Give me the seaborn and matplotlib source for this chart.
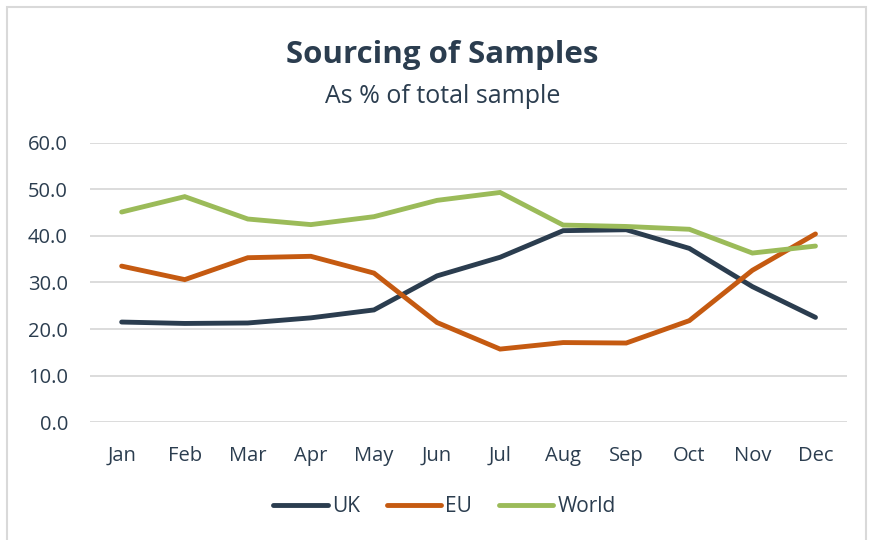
import matplotlib
matplotlib.use('Agg')
import matplotlib.pyplot as plt
import seaborn as sns
import pandas as pd
from matplotlib.patches import Rectangle

months = ['Jan', 'Feb', 'Mar', 'Apr', 'May', 'Jun', 'Jul', 'Aug', 'Sep', 'Oct', 'Nov', 'Dec']
uk = [21.5, 21.2, 21.3, 22.4, 24.1, 31.4, 35.4, 41.1, 41.3, 37.3, 29.1, 22.5]
eu = [33.5, 30.6, 35.3, 35.6, 32.0, 21.4, 15.7, 17.1, 17.0, 21.8, 32.6, 40.4]
world = [45.1, 48.4, 43.6, 42.4, 44.1, 47.6, 49.3, 42.3, 42.0, 41.4, 36.3, 37.8]

series = ['UK', 'EU', 'World']
colors = {'UK': '#2B3D4F', 'EU': '#C55A11', 'World': '#9BBB59'}
text_color = '#2B3D4F'

df = pd.DataFrame({
    'month': list(range(len(months))) * 3,
    'value': uk + eu + world,
    'series': ['UK'] * 12 + ['EU'] * 12 + ['World'] * 12,
})

sns.set_theme(style='white')
plt.rcParams['font.family'] = ['Open Sans', 'DejaVu Sans']

fig = plt.figure(figsize=(8.75, 5.4), dpi=100)
ax = fig.add_axes([0.103, 0.218, 0.865, 0.518])

sns.lineplot(data=df, x='month', y='value', hue='series', hue_order=series,
             palette=colors, linewidth=3.5, ax=ax, legend=False,
             solid_capstyle='round', solid_joinstyle='miter')

ax.set_xlim(-0.5, 11.5)
ax.set_ylim(0, 60)
ax.set_yticks(range(0, 61, 10))
ax.set_yticklabels([f'{v:.1f}' for v in range(0, 61, 10)])
ax.set_xticks(range(12))
ax.set_xticklabels(months)
ax.set_xlabel('')
ax.set_ylabel('')
ax.grid(True, axis='y', color='#D9D9D9', linewidth=1.3)
ax.set_axisbelow(True)
for s in ax.spines.values():
    s.set_visible(False)
ax.tick_params(axis='both', length=0, labelsize=14.5, colors=text_color)
ax.tick_params(axis='y', pad=16)
ax.tick_params(axis='x', pad=17)

fig.text(0.506, 0.898, 'Sourcing of Samples', ha='center', va='center',
         fontsize=22.5, fontweight='bold', color=text_color)
fig.text(0.506, 0.822, 'As % of total sample', ha='center', va='center',
         fontsize=18, color=text_color)

handles = [plt.Line2D([0], [0], color=colors[s], linewidth=3.5, solid_capstyle='round') for s in series]
fig.legend(handles, series, loc='center', bbox_to_anchor=(0.508, 0.062), ncol=3,
           frameon=False, fontsize=15, handlelength=2.6, handletextpad=0.2,
           columnspacing=1.3, labelcolor=text_color)

fig.patches.append(Rectangle((0.008, -0.05), 0.982, 1.037, transform=fig.transFigure,
                             fill=False, edgecolor='#D9D9D9', linewidth=1.5))

fig.savefig('out.png', dpi=100)
